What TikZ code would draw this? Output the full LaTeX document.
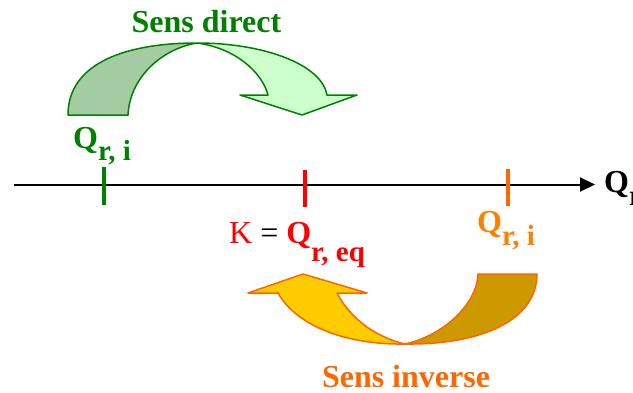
\documentclass[tikz,border=0pt]{standalone}
\usepackage{fontspec}
\setmainfont{Liberation Serif}
\usetikzlibrary{arrows.meta}
\definecolor{dgreen}{HTML}{008000}
\definecolor{backgreen}{HTML}{A3CCA3}
\definecolor{frontgreen}{HTML}{CCFFCC}
\definecolor{orangeline}{HTML}{FF6600}
\definecolor{labelorange}{HTML}{FF8000}
\definecolor{goldfront}{HTML}{FFCC00}
\definecolor{goldback}{HTML}{CC9900}
\newcommand\lowsub[2]{\raisebox{-#1pt}{\fontsize{29}{30}\selectfont #2}}
\begin{document}
\begin{tikzpicture}[x=1pt,y=-1pt,
  lbl/.style={inner sep=0pt, anchor=base west, font=\fontsize{32}{36}\selectfont\bfseries},
  titlelbl/.style={inner sep=0pt, anchor=base, font=\fontsize{32}{36}\selectfont\bfseries},
  tickmark/.style={line width=4pt},
  greenband/.style={draw=dgreen, line width=1.5pt, line join=round},
  goldband/.style={draw=orangeline, line width=1.5pt, line join=round}]
\useasboundingbox (0,0) rectangle (633,392);

% titles
\node[titlelbl, text=dgreen] (direct) at (206.5,32) {Sens direct};
\node[titlelbl, text=orangeline, text depth=0pt] (inverse) at (406,387) {Sens inverse};

% curved arrow: sens direct
\filldraw[greenband, fill=backgreen] (68,115) .. controls (68,62) and (128,43) .. (197,43)
  .. controls (165,48) and (130,75) .. (128,115) -- cycle;
\filldraw[greenband, fill=frontgreen] (197,43) .. controls (265,43) and (322,65) .. (327,95)
  -- (357,95) -- (302,115) -- (240,95) -- (268,95)
  .. controls (262,72) and (235,48) .. (197,43) -- cycle;

% curved arrow: sens inverse
\filldraw[goldband, fill=goldback] (405,344) .. controls (482,345) and (537,320) .. (537,274)
  -- (478,274) .. controls (477,305) and (442,336) .. (405,344) -- cycle;
\filldraw[goldband, fill=goldfront] (405,344) .. controls (350,345) and (298,328) .. (278,293)
  -- (248,293) -- (303,274) -- (367,293) -- (337,293)
  .. controls (350,318) and (375,337) .. (405,344) -- cycle;

% axis
\coordinate (axstart) at (14,184.5);
\coordinate (axend) at (595,184.5);
\draw[line width=2pt, -{Triangle[length=15pt,width=14pt]}] (axstart) -- (axend);

% ticks
\coordinate (gtop) at (104,167); \coordinate (gbot) at (104,205);
\coordinate (rtop) at (305,170); \coordinate (rbot) at (305,207);
\coordinate (otop) at (508,169); \coordinate (obot) at (508,206);
\draw[tickmark, dgreen] (gtop) -- (gbot);
\draw[tickmark, red] (rtop) -- (rbot);
\draw[tickmark, orangeline] (otop) -- (obot);

% labels
\node[lbl, text=dgreen] (qgreen) at (73,148) {Q\lowsub{12}{r, i}};
\node[lbl, text=labelorange] (qorange) at (477,232) {Q\lowsub{13}{r, i}};
\node[lbl, text=red] (keq) at (229,243) {\mdseries K \textcolor{black}{=} \bfseries Q\lowsub{18}{r, eq}};
\node[lbl, text=black] (qaxis) at (604,192) {Q\lowsub{13}{r}};
\end{tikzpicture}
\end{document}
